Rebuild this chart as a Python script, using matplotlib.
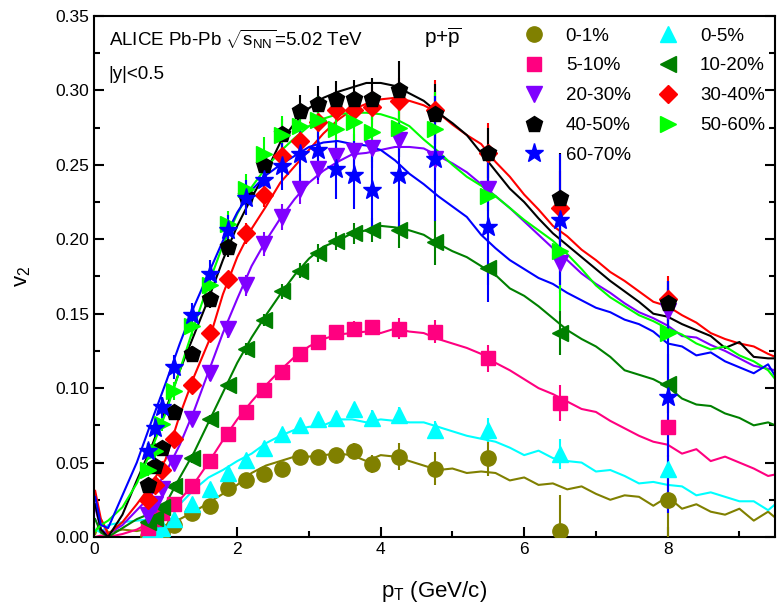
import matplotlib
matplotlib.use('Agg')
import matplotlib.pyplot as plt
from matplotlib.ticker import MultipleLocator, FormatStrFormatter

plt.rcParams['font.family'] = ['Liberation Sans', 'DejaVu Sans']
plt.rcParams['mathtext.fontset'] = 'custom'
plt.rcParams['mathtext.rm'] = 'Liberation Sans'
plt.rcParams['mathtext.it'] = 'Liberation Sans:italic'
plt.rcParams['mathtext.bf'] = 'Liberation Sans:bold'

# measured points (pT bin centres)
pt = [0.75, 0.85, 0.95, 1.125, 1.375, 1.625, 1.875, 2.125, 2.375, 2.625, 2.875,
      3.125, 3.375, 3.625, 3.875, 4.25, 4.75, 5.5, 6.5, 8.0]

labels = ['0-1%', '0-5%', '5-10%', '10-20%', '20-30%', '30-40%', '40-50%', '50-60%', '60-70%']
colors = ['#808000', '#00FFFF', '#FF0080', '#008000', '#8000FF', '#FF0000', '#000000', '#00FF00', '#0000FF']
markers = ['o', '^', 's', '<', 'v', 'D', 'p', '>', '*']

v2_0_1 = [0.001, 0.002, 0.003, 0.008, 0.016, 0.021, 0.033, 0.038, 0.042, 0.046, 0.054,
          0.054, 0.055, 0.058, 0.049, 0.054, 0.046, 0.053, 0.004, 0.025]
err_0_1 = [0.002, 0.002, 0.002, 0.002, 0.002, 0.002, 0.002, 0.003, 0.003, 0.003, 0.003,
           0.004, 0.004, 0.005, 0.006, 0.009, 0.011, 0.012, 0.024, 0.030]

v2_0_5 = [0.002, 0.004, 0.006, 0.012, 0.022, 0.032, 0.043, 0.052, 0.060, 0.069, 0.075,
          0.079, 0.080, 0.086, 0.080, 0.082, 0.072, 0.072, 0.056, 0.046]
err_0_5 = [0.002, 0.002, 0.002, 0.002, 0.002, 0.002, 0.002, 0.003, 0.003, 0.003, 0.003,
           0.004, 0.004, 0.004, 0.005, 0.005, 0.006, 0.008, 0.010, 0.020]

v2_5_10 = [0.006, 0.012, 0.016, 0.022, 0.034, 0.051, 0.069, 0.084, 0.099, 0.111, 0.123,
           0.131, 0.138, 0.140, 0.141, 0.140, 0.138, 0.120, 0.090, 0.074]
err_5_10 = [0.002, 0.002, 0.002, 0.002, 0.002, 0.002, 0.003, 0.003, 0.003, 0.003, 0.004,
            0.004, 0.004, 0.005, 0.005, 0.007, 0.008, 0.009, 0.012, 0.020]

v2_10_20 = [0.010, 0.013, 0.020, 0.034, 0.053, 0.079, 0.102, 0.126, 0.146, 0.165, 0.179,
            0.191, 0.199, 0.204, 0.206, 0.206, 0.198, 0.181, 0.137, 0.103]
err_10_20 = [0.002, 0.002, 0.002, 0.003, 0.003, 0.003, 0.003, 0.004, 0.004, 0.005, 0.005,
             0.006, 0.006, 0.007, 0.008, 0.012, 0.015, 0.012, 0.015, 0.020]

v2_20_30 = [0.015, 0.022, 0.032, 0.050, 0.079, 0.110, 0.140, 0.169, 0.197, 0.215, 0.234,
            0.247, 0.256, 0.259, 0.261, 0.267, 0.254, 0.234, 0.184, 0.152]
err_20_30 = [0.002, 0.002, 0.003, 0.003, 0.004, 0.005, 0.006, 0.007, 0.008, 0.009, 0.010,
             0.010, 0.011, 0.012, 0.013, 0.012, 0.015, 0.015, 0.020, 0.020]

v2_30_40 = [0.025, 0.035, 0.045, 0.066, 0.102, 0.137, 0.173, 0.204, 0.230, 0.256, 0.266,
            0.279, 0.287, 0.287, 0.289, 0.293, 0.287, 0.258, 0.221, 0.160]
err_30_40 = [0.002, 0.003, 0.003, 0.004, 0.004, 0.005, 0.006, 0.007, 0.008, 0.009, 0.010,
             0.010, 0.011, 0.012, 0.013, 0.015, 0.020, 0.020, 0.025, 0.015]

v2_40_50 = [0.035, 0.048, 0.060, 0.084, 0.123, 0.160, 0.195, 0.229, 0.250, 0.271, 0.286,
            0.291, 0.294, 0.294, 0.294, 0.300, 0.284, 0.258, 0.228, 0.157]
err_40_50 = [0.003, 0.003, 0.004, 0.004, 0.005, 0.006, 0.007, 0.008, 0.009, 0.010, 0.011,
             0.012, 0.012, 0.013, 0.014, 0.020, 0.020, 0.017, 0.030, 0.015]

v2_50_60 = [0.045, 0.058, 0.076, 0.098, 0.142, 0.169, 0.210, 0.234, 0.257, 0.270, 0.276,
            0.280, 0.274, 0.279, 0.272, 0.275, 0.274, 0.229, 0.192, 0.137]
err_50_60 = [0.004, 0.005, 0.005, 0.006, 0.007, 0.008, 0.009, 0.010, 0.012, 0.013, 0.015,
             0.016, 0.018, 0.020, 0.020, 0.020, 0.025, 0.030, 0.040, 0.030]

v2_60_70 = [0.058, 0.073, 0.087, 0.114, 0.149, 0.177, 0.206, 0.228, 0.240, 0.249, 0.257,
            0.260, 0.247, 0.243, 0.233, 0.243, 0.254, 0.208, 0.213, 0.094]
err_60_70 = [0.005, 0.006, 0.007, 0.008, 0.008, 0.009, 0.010, 0.012, 0.014, 0.016, 0.018,
             0.020, 0.020, 0.023, 0.025, 0.035, 0.042, 0.050, 0.044, 0.078]

# model curves
curve_pt = [0.02, 0.1, 0.2, 0.4, 0.6, 0.8, 1.0, 1.2, 1.4, 1.6, 1.8, 2.0, 2.2, 2.4, 2.6, 2.8,
            3.0, 3.2, 3.4, 3.6, 3.8, 4.0, 4.2, 4.4, 4.6, 4.8, 5.0, 5.2, 5.4, 5.6, 5.8, 6.0,
            6.2, 6.4, 6.6, 6.8, 7.0, 7.2, 7.4, 7.6, 7.8, 8.0, 8.2, 8.4, 8.6, 8.8, 9.0, 9.2,
            9.4, 9.5]

model_0_1 = [0.002, 0.012, 0.003, 0.005, 0.004, 0.006, 0.008, 0.012, 0.017, 0.023,
             0.029, 0.035, 0.043, 0.048, 0.051, 0.054, 0.054, 0.055, 0.056, 0.055,
             0.051, 0.055, 0.054, 0.051, 0.048, 0.045, 0.046, 0.043, 0.044, 0.043,
             0.038, 0.040, 0.035, 0.036, 0.032, 0.034, 0.029, 0.025, 0.028, 0.027,
             0.021, 0.027, 0.019, 0.022, 0.017, 0.015, 0.019, 0.011, 0.017, 0.013]
model_0_5 = [0.005, 0.003, 0.008, 0.010, 0.011, 0.012, 0.015, 0.022, 0.032, 0.040,
             0.045, 0.051, 0.056, 0.063, 0.068, 0.072, 0.074, 0.075, 0.079, 0.079,
             0.077, 0.079, 0.078, 0.077, 0.077, 0.074, 0.071, 0.068, 0.066, 0.064,
             0.060, 0.055, 0.058, 0.053, 0.051, 0.050, 0.044, 0.045, 0.041, 0.036,
             0.037, 0.035, 0.034, 0.028, 0.030, 0.027, 0.024, 0.024, 0.018, 0.022]
model_5_10 = [0.000, 0.001, 0.000, 0.002, 0.005, 0.010, 0.016, 0.025, 0.036, 0.050,
              0.065, 0.079, 0.091, 0.102, 0.112, 0.121, 0.128, 0.133, 0.136, 0.137,
              0.138, 0.137, 0.140, 0.138, 0.137, 0.133, 0.130, 0.127, 0.123, 0.117,
              0.112, 0.106, 0.100, 0.096, 0.091, 0.086, 0.084, 0.078, 0.073, 0.068,
              0.064, 0.062, 0.056, 0.059, 0.051, 0.054, 0.050, 0.046, 0.041, 0.042]
model_10_20 = [0.012, 0.003, 0.000, 0.006, 0.012, 0.016, 0.022, 0.040, 0.057, 0.077,
               0.097, 0.117, 0.134, 0.149, 0.163, 0.176, 0.187, 0.195, 0.199, 0.204,
               0.206, 0.209, 0.208, 0.206, 0.203, 0.197, 0.192, 0.188, 0.182, 0.176,
               0.167, 0.162, 0.155, 0.147, 0.139, 0.133, 0.128, 0.121, 0.112, 0.109,
               0.106, 0.101, 0.093, 0.089, 0.088, 0.083, 0.080, 0.075, 0.077, 0.075]
model_20_30 = [0.020, 0.005, 0.002, 0.008, 0.018, 0.028, 0.043, 0.062, 0.085, 0.111,
               0.137, 0.160, 0.182, 0.199, 0.214, 0.227, 0.238, 0.246, 0.252, 0.257,
               0.258, 0.260, 0.262, 0.262, 0.261, 0.256, 0.251, 0.245, 0.237, 0.229,
               0.221, 0.212, 0.203, 0.194, 0.186, 0.177, 0.170, 0.164, 0.157, 0.151,
               0.147, 0.142, 0.135, 0.134, 0.129, 0.125, 0.120, 0.115, 0.113, 0.112]
model_30_40 = [0.031, 0.012, 0.002, 0.010, 0.022, 0.035, 0.052, 0.082, 0.108, 0.131,
               0.163, 0.188, 0.207, 0.222, 0.238, 0.249, 0.260, 0.271, 0.280, 0.287,
               0.291, 0.294, 0.295, 0.293, 0.290, 0.285, 0.277, 0.270, 0.264, 0.252,
               0.242, 0.230, 0.220, 0.209, 0.202, 0.193, 0.186, 0.178, 0.172, 0.165,
               0.158, 0.155, 0.149, 0.144, 0.137, 0.133, 0.130, 0.128, 0.123, 0.121]
model_40_50 = [0.022, 0.005, 0.000, 0.015, 0.038, 0.060, 0.085, 0.112, 0.136, 0.160,
               0.186, 0.209, 0.228, 0.245, 0.265, 0.278, 0.288, 0.295, 0.299, 0.302,
               0.305, 0.305, 0.303, 0.298, 0.293, 0.285, 0.278, 0.270, 0.258, 0.246,
               0.234, 0.225, 0.214, 0.204, 0.196, 0.188, 0.180, 0.172, 0.165, 0.158,
               0.150, 0.148, 0.143, 0.139, 0.135, 0.127, 0.131, 0.121, 0.120, 0.120]
model_50_60 = [0.004, 0.008, 0.011, 0.020, 0.036, 0.058, 0.083, 0.112, 0.142, 0.170,
               0.196, 0.217, 0.235, 0.248, 0.259, 0.268, 0.276, 0.281, 0.284, 0.285,
               0.285, 0.284, 0.281, 0.276, 0.267, 0.259, 0.250, 0.242, 0.236, 0.229,
               0.221, 0.213, 0.206, 0.199, 0.190, 0.180, 0.169, 0.161, 0.155, 0.149,
               0.145, 0.140, 0.136, 0.130, 0.126, 0.128, 0.122, 0.118, 0.112, 0.106]
model_60_70 = [0.027, 0.008, 0.006, 0.028, 0.050, 0.077, 0.103, 0.130, 0.155, 0.177,
               0.199, 0.218, 0.233, 0.243, 0.250, 0.256, 0.262, 0.265, 0.266, 0.264,
               0.263, 0.260, 0.253, 0.244, 0.237, 0.229, 0.222, 0.215, 0.203, 0.194,
               0.186, 0.180, 0.174, 0.170, 0.164, 0.159, 0.154, 0.151, 0.146, 0.143,
               0.138, 0.130, 0.128, 0.122, 0.124, 0.118, 0.114, 0.110, 0.116, 0.108]

data = [v2_0_1, v2_0_5, v2_5_10, v2_10_20, v2_20_30, v2_30_40, v2_40_50, v2_50_60, v2_60_70]
errs = [err_0_1, err_0_5, err_5_10, err_10_20, err_20_30, err_30_40, err_40_50, err_50_60, err_60_70]
models = [model_0_1, model_0_5, model_5_10, model_10_20, model_20_30, model_30_40,
          model_40_50, model_50_60, model_60_70]
msizes = [11, 11, 10, 11, 11, 9, 12, 11, 14]

fig = plt.figure(figsize=(7.78, 6.14), dpi=100)
ax = fig.add_axes([0.1205, 0.1254, 0.876, 0.8486])

for m, c in zip(models, colors):
    ax.plot(curve_pt, m, color=c, lw=1.5, zorder=2)

handles = []
for y, e, c, mk, ms in zip(data, errs, colors, markers, msizes):
    ax.errorbar(pt, y, yerr=e, fmt='none', ecolor=c, elinewidth=1.5, capsize=0, zorder=3)
    h, = ax.plot(pt, y, ls='none', marker=mk, ms=ms, color=c, mec=c, zorder=4)
    handles.append(h)

ax.set_xlim(0, 9.5)
ax.set_ylim(0, 0.35)
ax.xaxis.set_major_locator(MultipleLocator(2))
ax.xaxis.set_minor_locator(MultipleLocator(1))
ax.yaxis.set_major_locator(MultipleLocator(0.05))
ax.yaxis.set_minor_locator(MultipleLocator(0.025))
ax.yaxis.set_major_formatter(FormatStrFormatter('%.2f'))
ax.tick_params(which='both', direction='in', right=True, top=False, width=1.5, labelsize=12.5)
ax.tick_params(which='major', length=7)
ax.tick_params(which='minor', length=4)
for s in ax.spines.values():
    s.set_linewidth(1.5)

ax.set_xlabel(r'p$_{\rm T}$ (GeV/c)', fontsize=16, labelpad=16)
ax.set_ylabel(r'v$_{\rm 2}$', fontsize=16, labelpad=16)

ax.text(0.022, 0.955, r'ALICE Pb-Pb $\sqrt{\mathrm{s}_{\rm NN}}$=5.02 TeV', transform=ax.transAxes,
        fontsize=13.5, va='center', ha='left')
ax.text(0.022, 0.887, '|y|<0.5', transform=ax.transAxes, fontsize=13.5, va='center', ha='left')
ax.text(0.512, 0.958, r'p+$\overline{\mathrm{p}}$', transform=ax.transAxes, fontsize=15,
        va='center', ha='center')

# legend filled row by row like the reference
order = [0, 2, 4, 6, 8, 1, 3, 5, 7]
ax.legend([handles[i] for i in order], [labels[i] for i in order], ncol=2, frameon=False,
          loc='upper left', bbox_to_anchor=(0.632, 0.978), fontsize=13.5, handlelength=1.0,
          handletextpad=1.2, columnspacing=1.5, labelspacing=0.68, borderpad=0,
          borderaxespad=0)

plt.savefig('out.png', dpi=100)
